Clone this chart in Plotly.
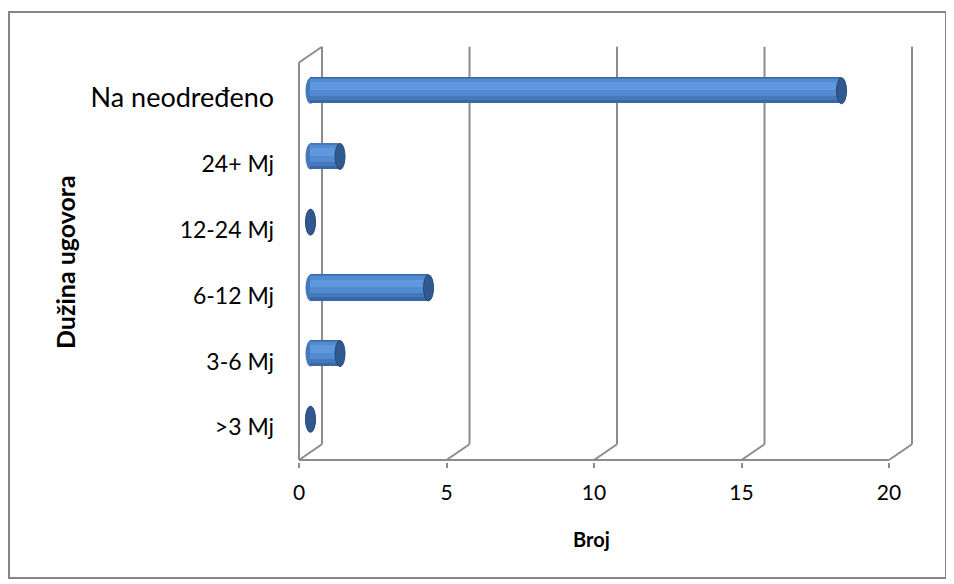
import plotly.graph_objects as go

# data
categories = [">3 Mj", "3-6 Mj", "6-12 Mj", "12-24 Mj", "24+ Mj", "Na neodređeno"]
counts = [0, 1, 4, 0, 1, 18]
x_ticks = [0, 5, 10, 15, 20]

FONT = "Lato"
GRID = "#8c8c8c"
W, H = 954, 584

# fake 3D depth of the Excel-style chart, in axis units
DX, DY = 0.78, 0.24
TOP = 5.55
pos = list(range(len(categories)))
yc = [p + DY / 2 for p in pos]
base = DX / 2

fig = go.Figure()

# cylinder body: a few overlaid bars to imitate the shading
shading = [(0.40, 0.00, "#3a68a4"), (0.34, 0.02, "#4679bb"),
           (0.26, 0.04, "#528bd1"), (0.12, 0.06, "#5f98dc")]
for w, shift, col in shading:
    fig.add_trace(go.Bar(
        x=counts, y=yc, base=base, orientation="h",
        width=w, offset=-w / 2 + shift,
        marker=dict(color=col, line=dict(width=0)),
        hoverinfo="skip", showlegend=False,
    ))

shapes = []
# back wall gridlines + floor slants
for t in x_ticks:
    shapes.append(dict(type="line", xref="x", yref="y", layer="below",
                       x0=t + DX, x1=t + DX, y0=-0.5 + DY, y1=TOP + DY,
                       line=dict(color=GRID, width=2)))
    shapes.append(dict(type="line", xref="x", yref="y", layer="below",
                       x0=t, x1=t + DX, y0=-0.5, y1=-0.5 + DY,
                       line=dict(color=GRID, width=2)))
# front floor edge and left side wall
shapes.append(dict(type="line", xref="x", yref="y", layer="below",
                   x0=x_ticks[0], x1=x_ticks[-1], y0=-0.5, y1=-0.5,
                   line=dict(color=GRID, width=2)))
shapes.append(dict(type="line", xref="x", yref="y", layer="below",
                   x0=0, x1=0, y0=-0.5, y1=TOP,
                   line=dict(color=GRID, width=2)))
shapes.append(dict(type="line", xref="x", yref="y", layer="below",
                   x0=0, x1=DX, y0=TOP, y1=TOP + DY,
                   line=dict(color=GRID, width=2)))

# cylinder end caps
rx, ry = 0.17, 0.198
for v, y in zip(counts, yc):
    shapes.append(dict(type="circle", xref="x", yref="y", layer="below",
                       x0=base - rx, x1=base + rx, y0=y - ry, y1=y + ry,
                       fillcolor="#4679bb", line=dict(width=0)))
    shapes.append(dict(type="circle", xref="x", yref="y", layer="above",
                       x0=base + v - rx, x1=base + v + rx, y0=y - ry, y1=y + ry,
                       fillcolor="#30598e", line=dict(color="#26497a", width=1)))

# outer chart border
shapes.append(dict(type="rect", xref="paper", yref="paper",
                   x0=1 / W, x1=938 / W, y0=1 - 570 / H, y1=1 - 4 / H,
                   line=dict(color="#868686", width=2)))

ticktext = [c if c != "Na neodređeno" else "<span style='font-size:27px'>" + c + "</span>"
            for c in categories]

fig.update_layout(
    width=W, height=H,
    margin=dict(l=0, r=0, t=0, b=0),
    paper_bgcolor="white", plot_bgcolor="white",
    barmode="overlay", bargap=0,
    font=dict(family=FONT, color="black"),
    shapes=shapes,
    xaxis=dict(domain=[282.15 / W, 925.25 / W], range=[-0.3, 21.5],
               tickvals=x_ticks, ticks="outside", ticklen=5, tickwidth=2,
               tickcolor=GRID, showgrid=False, zeroline=False, showline=False,
               ticklabelstandoff=7, tickfont=dict(size=21, family=FONT)),
    yaxis=dict(domain=[0.2226, 0.9461], range=[-0.53, 5.9],
               tickvals=pos, ticktext=ticktext, showgrid=False,
               zeroline=False, showline=False, ticklabelstandoff=15,
               tickfont=dict(size=23, family=FONT)),
    annotations=[
        dict(text="<b>Broj</b>", xref="paper", yref="paper",
             x=583 / W, y=1 - 531 / H, xanchor="center", yanchor="middle",
             showarrow=False, font=dict(size=20, family=FONT)),
        dict(text="<b>Dužina ugovora</b>", xref="paper", yref="paper",
             x=57 / W, y=1 - 254 / H, xanchor="center", yanchor="middle",
             showarrow=False, textangle=-90, font=dict(size=25, family=FONT)),
    ],
)

fig.write_html("out.html")
